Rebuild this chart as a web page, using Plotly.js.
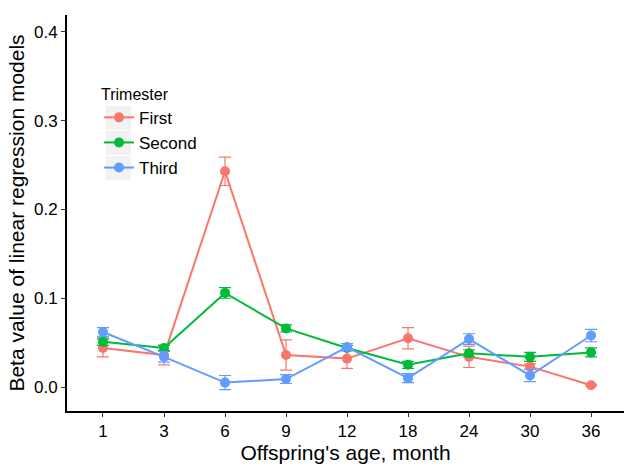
<!DOCTYPE html>
<html>
<head>
<meta charset="utf-8">
<script src="https://cdn.plot.ly/plotly-3.0.1.min.js"></script>
<style>html,body{margin:0;padding:0;background:#fff;}#chart{width:624px;height:467px;}</style>
</head>
<body>
<div id="chart"></div>
<script>
const ages = ["1", "3", "6", "9", "12", "18", "24", "30", "36"];
const seriesNames = ["First", "Second", "Third"];
const firstBeta  = [0.044, 0.036, 0.243, 0.036, 0.032, 0.055, 0.034, 0.023, 0.002];
const firstErr   = [0.010, 0.011, 0.016, 0.017, 0.011, 0.012, 0.012, 0.003, 0.001];
const secondBeta = [0.051, 0.044, 0.106, 0.066, 0.044, 0.025, 0.038, 0.034, 0.039];
const secondErr  = [0.004, 0.003, 0.006, 0.004, 0.003, 0.004, 0.004, 0.005, 0.005];
const thirdBeta  = [0.062, 0.034, 0.005, 0.009, 0.045, 0.010, 0.054, 0.013, 0.058];
const thirdErr   = [0.005, 0.006, 0.008, 0.005, 0.004, 0.005, 0.006, 0.007, 0.007];
const colors = ["#F8766D", "#00BA38", "#619CFF"];

const values = [firstBeta, secondBeta, thirdBeta];
const errs = [firstErr, secondErr, thirdErr];

const traces = values.map((v, i) => ({
  type: "scatter",
  mode: "lines+markers",
  name: seriesNames[i],
  x: ages,
  y: v,
  line: {color: colors[i], width: 2},
  marker: {color: colors[i], size: 10, symbol: "circle"},
  error_y: {type: "data", array: errs[i], visible: true, color: colors[i], thickness: 1.2, width: 6}
}));

// legend key backgrounds (ggplot-style grey boxes)
const keyShapes = [0, 1, 2].map(k => ({
  type: "rect", xref: "paper", yref: "paper", layer: "below",
  x0: (106 - 67) / 557, x1: (131 - 67) / 557,
  y0: (411 - (130 + k * 25)) / 396, y1: (411 - (106 + k * 25)) / 396,
  fillcolor: "#F2F2F2", line: {width: 0}
}));

const layout = {
  width: 624, height: 467,
  margin: {l: 67, r: 0, t: 15, b: 56},
  paper_bgcolor: "#ffffff",
  plot_bgcolor: "#ffffff",
  font: {family: "Liberation Sans, Arial, sans-serif", color: "#000"},
  showlegend: true,
  legend: {
    x: (99 - 67) / 557, y: (411 - 79) / 396, xanchor: "left", yanchor: "top",
    bgcolor: "rgba(0,0,0,0)",
    title: {text: "Trimester", font: {size: 16, color: "#000"}},
    font: {size: 17, color: "#000"},
    tracegroupgap: 0,
    itemwidth: 30
  },
  xaxis: {
    type: "category",
    range: [-0.59, 8.54],
    showgrid: false, zeroline: false,
    showline: true, linecolor: "#000", linewidth: 2,
    ticks: "outside", ticklen: 4, tickcolor: "#333", tickwidth: 1,
    tickfont: {size: 17, color: "#000"},
    title: {text: "Offspring's age, month", font: {size: 21, color: "#000"}, standoff: 5}
  },
  yaxis: {
    range: [-0.027, 0.419],
    tickvals: [0, 0.1, 0.2, 0.3, 0.4],
    ticktext: ["0.0", "0.1", "0.2", "0.3", "0.4"],
    showgrid: false, zeroline: false,
    showline: true, linecolor: "#000", linewidth: 2,
    ticks: "outside", ticklen: 4, tickcolor: "#333", tickwidth: 1,
    tickfont: {size: 17, color: "#000"},
    title: {text: "Beta value of linear regression models", font: {size: 21, color: "#000"}, standoff: 4}
  },
  shapes: keyShapes
};

Plotly.newPlot("chart", traces, layout, {staticPlot: true, displayModeBar: false});
</script>
</body>
</html>
